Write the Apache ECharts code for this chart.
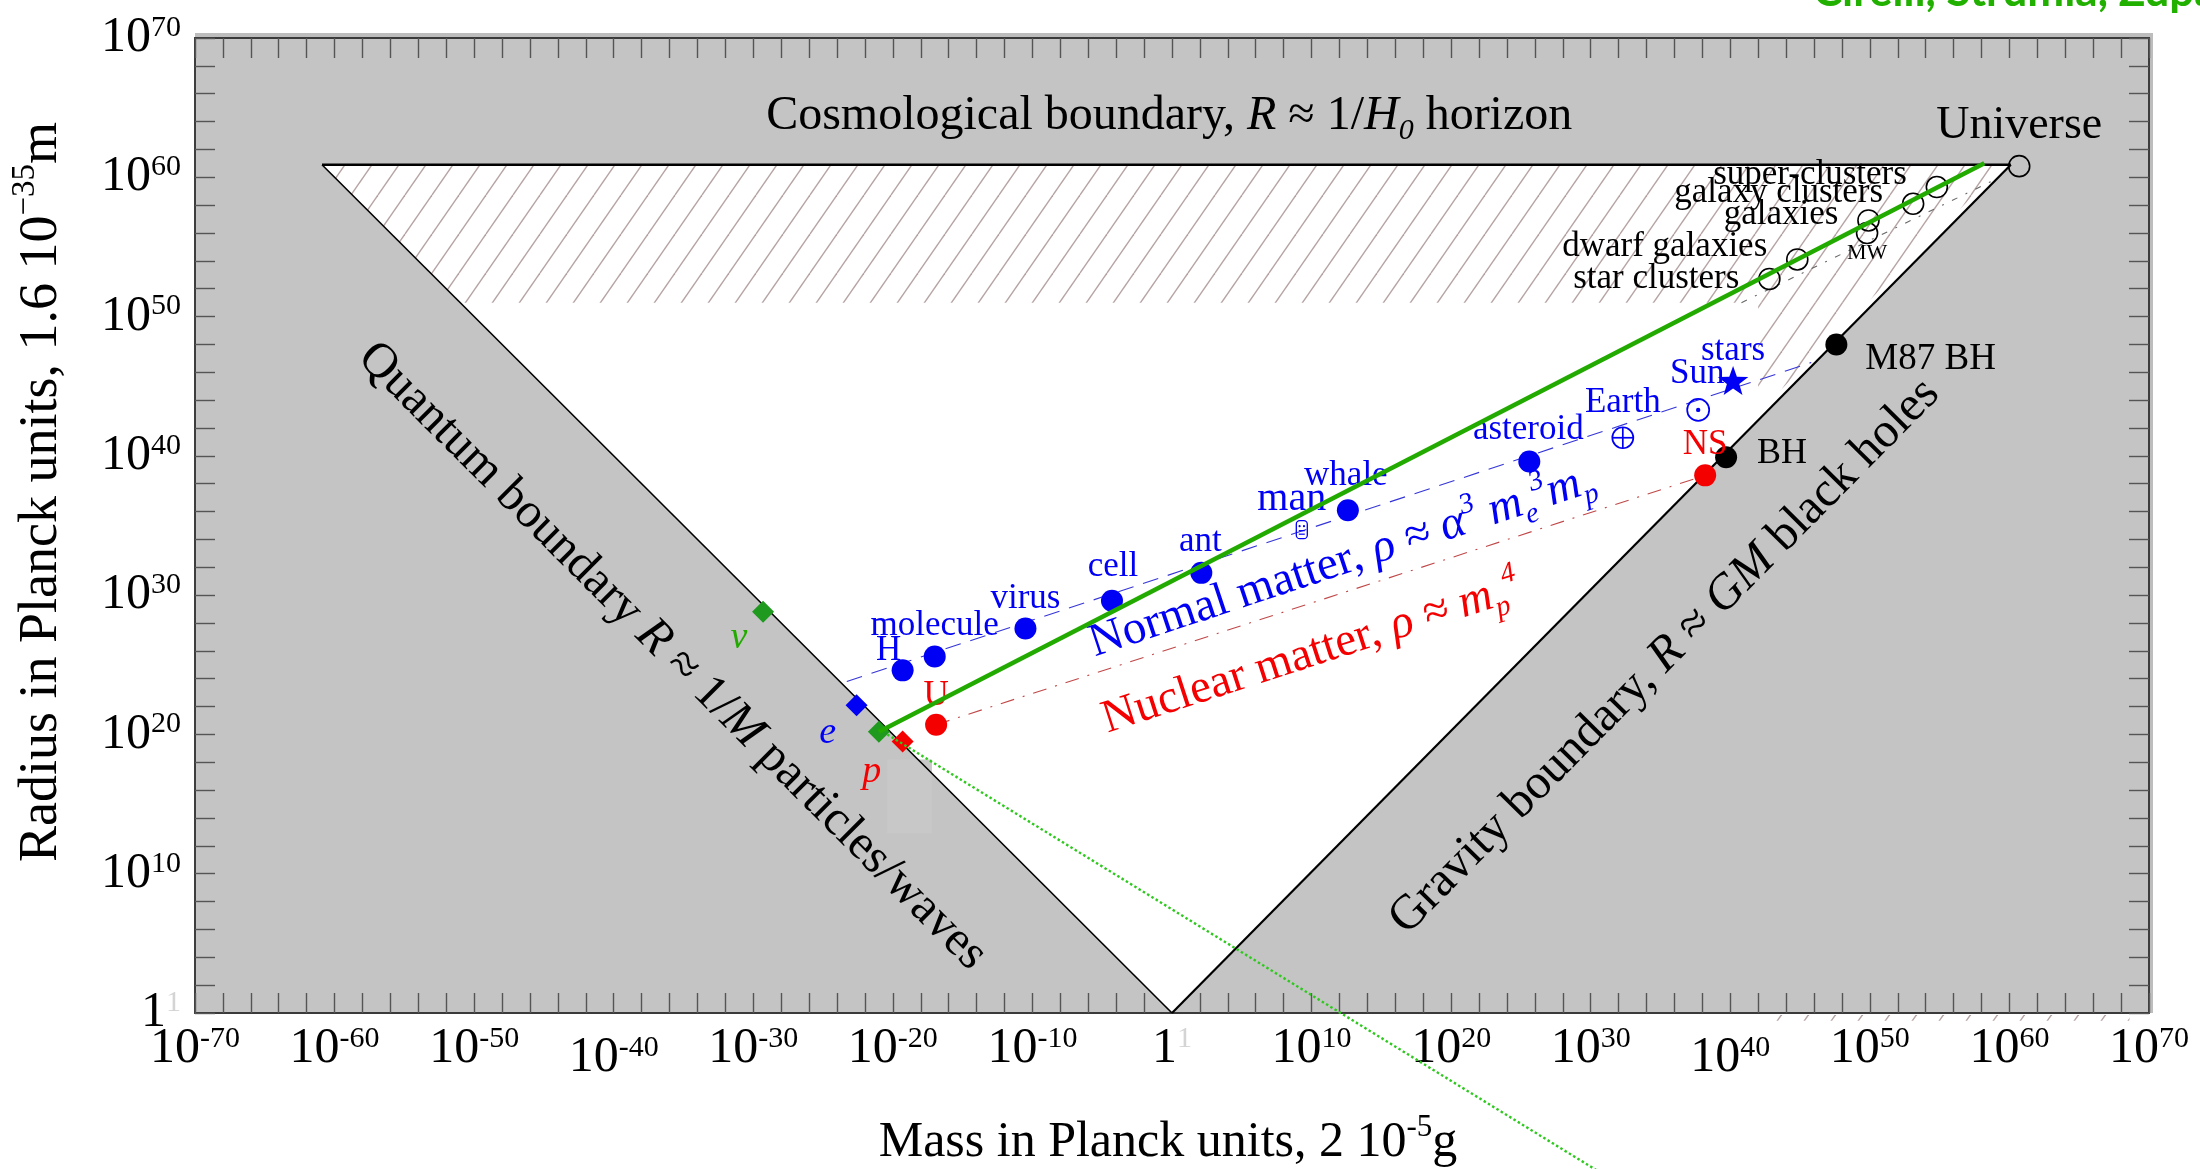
<!DOCTYPE html>
<html>
<head>
<meta charset="utf-8">
<script src="https://cdn.jsdelivr.net/npm/echarts@6/dist/echarts.min.js"></script>
<style>html,body{margin:0;padding:0;background:#fff;}#chart{width:2200px;height:1169px;}</style>
</head>
<body>
<div id="chart"></div>
<script>
// ---------------- data (log10 of Planck units) ----------------
const massLabelValues = [-70,-60,-50,-40,-30,-20,-10,0,10,20,30,40,50,60,70];
const loweredMassLabels = [-40,40];
const radiusLabelValues = [0,10,20,30,40,50,60,70];

const allowedRegion = [[-60.9,60.9],[0,0],[60.1,60.9]];
const quantumBoundary = [[-60.9,60.9],[0,0]];
const gravityBoundary = [[0,0],[60.1,60.9]];
const cosmologicalBoundary = [[-60.9,60.9],[60.1,60.9]];
const hatchBand = [[-60.9,60.9],[59.6,60.9],[49.8,51.0],[-51.0,51.0]];
const hatchWedge = [[42.0,51.0],[49.8,51.0],[42.0,43.1]];
const hatchStrip = [[42.3,-0.15],[68.6,-0.15],[68.6,-0.55],[42.3,-0.55]];
const greyPatch = [[-20.4,18.2],[-17.2,18.2],[-17.2,12.9],[-20.4,12.9]];
const normalMatterLine = [[-23.3,23.8],[45.8,46.7]];
const nuclearMatterLine = [[-16.9,20.7],[38.2,38.6]];
const galaxyLine = [[40.8,51.0],[58.9,59.8]];
const greenLine = [[-21.0,20.2],[58.2,61.0]];
const greenDotted = [[-20.4,20.0],[30.6,-11.4]];

const normalNames  = ['H','molecule','virus','cell','ant','whale','asteroid'];
const normalMass   = [-19.3,-17.0,-10.5,-4.3,2.1,12.6,25.6];
const normalRadius = [24.6,25.6,27.6,29.6,31.6,36.1,39.6];

const bodyNames  = ['man','Earth','Sun','stars'];
const bodyMass   = [9.3,32.3,37.7,40.2];
const bodyRadius = [34.7,41.3,43.3,45.3];

const nuclearNames  = ['U','NS'];
const nuclearMass   = [-16.9,38.2];
const nuclearRadius = [20.7,38.6];

const holeNames  = ['BH','M87 BH'];
const holeMass   = [39.7,47.6];
const holeRadius = [39.9,48.0];

const cosmicNames  = ['star clusters','dwarf galaxies','galaxies','MW','galaxy clusters','super-clusters','Universe'];
const cosmicMass   = [42.8,44.8,49.9,49.8,53.1,54.8,60.7];
const cosmicRadius = [52.7,54.1,56.9,56.0,58.1,59.3,60.8];

const particleNames  = ['ν','e','','p'];
const particleMass   = [-29.3,-22.6,-21.0,-19.3];
const particleRadius = [28.8,22.1,20.2,19.5];

const annotationNames  = ['cosmological','quantum','gravity','normal','nuclear'];
const annotationMass   = [-0.2,-35.8,35.3,12.2,10.0];
const annotationRadius = [64.4,25.6,25.6,32.4,25.8];

// ---------------- styles ----------------
const FONT = 'Liberation Serif';
const BLUE = '#0000f4', RED = '#f40000', GREEN = '#22aa00', GREEN_MARK = '#1f9a1f', BLACK = '#000';
const particleColors = [GREEN_MARK, BLUE, GREEN_MARK, RED];
const labelPlacement = {
  'H':[-14,-20,'center'], 'molecule':[0,-31,'center'], 'virus':[0,-30,'center'], 'cell':[1,-34,'center'],
  'ant':[-1,-31,'center'], 'whale':[-2,-34,'center'], 'asteroid':[-1,-32,'center'],
  'man':[-10,-30,'center'], 'Earth':[0,-35,'center'], 'Sun':[-1,-36,'center'], 'stars':[0,-31,'center'],
  'U':[0,-29,'center'], 'NS':[0,-31,'center'], 'BH':[31,-4,'left'], 'M87 BH':[29,15,'left'],
  'star clusters':[-30,0,'right'], 'dwarf galaxies':[-30,-13,'right'], 'galaxies':[-30,-6,'right'],
  'MW':[0,20,'center'], 'galaxy clusters':[-30,-11,'right'], 'super-clusters':[-30,-12,'right'],
  'Universe':[0,-40,'center'], 'ν':[-24,26,'center'], 'e':[-29,28,'center'], 'p':[-31,31,'center']
};
const labelSize = {'man':40,'Universe':46,'MW':22,'BH':36,'M87 BH':37,'ν':38,'e':38,'p':38};
const italicLabels = ['ν','e','p'];

function hatchPattern() {
  const W = 27, H = 39;
  const c = document.createElement('canvas');
  c.width = W; c.height = H;
  const ctx = c.getContext('2d');
  ctx.strokeStyle = '#b6a4a4';
  ctx.lineWidth = 1.4;
  for (const off of [-W, 0, W]) {
    ctx.beginPath(); ctx.moveTo(off, H); ctx.lineTo(off + W, 0); ctx.stroke();
  }
  return {image: c, repeat: 'repeat'};
}
const HATCH = hatchPattern();

// ---------------- build ----------------
const chart = echarts.init(document.getElementById('chart'), null, {renderer: 'canvas'});

function polygonSeries(points, style, z) {
  return {
    type: 'custom', z: z, silent: true, clip: false, animation: false,
    data: [[points[0][0], points[0][1]]],
    renderItem: (params, api) => ({
      type: 'polygon',
      shape: {points: points.map(p => api.coord(p))},
      style: style
    })
  };
}
function lineSeries(points, color, width, type, z, clip) {
  return {
    type: 'line', data: points, symbol: 'none', z: z, silent: true, clip: clip,
    animation: false, lineStyle: {color: color, width: width, type: type}
  };
}
function pairs(xs, ys) { return xs.map((x, i) => [x, ys[i], i]); }

function axisLabelRich() {
  return {
    d: {fontFamily: FONT, fontSize: 50, lineHeight: 50, color: BLACK},
    e: {fontFamily: FONT, fontSize: 30, lineHeight: 30, verticalAlign: 'top', color: BLACK},
    f: {fontFamily: FONT, fontSize: 30, lineHeight: 30, verticalAlign: 'top', color: '#d4d4d4'}
  };
}
function expText(v) {
  if (v === 0) return '{d|1}{f|1}';
  return '{d|10}{e|' + v + '}';
}

// label collection
const labelNames = [], labelMass = [], labelRadius = [], labelColors = [];
function addLabels(names, ms, rs, color) {
  names.forEach((n, i) => {
    if (!n) return;
    labelNames.push(n); labelMass.push(ms[i]); labelRadius.push(rs[i]);
    labelColors.push(typeof color === 'function' ? color(i) : color);
  });
}
addLabels(normalNames, normalMass, normalRadius, BLUE);
addLabels(bodyNames, bodyMass, bodyRadius, BLUE);
addLabels(nuclearNames, nuclearMass, nuclearRadius, RED);
addLabels(holeNames, holeMass, holeRadius, BLACK);
addLabels(cosmicNames, cosmicMass, cosmicRadius, BLACK);
addLabels(particleNames, particleMass, particleRadius, i => particleColors[i] === GREEN_MARK ? GREEN : particleColors[i]);

function richSet(size, color) {
  const sub = Math.round(size * 0.62);
  return {
    t: {fontFamily: FONT, fontSize: size, lineHeight: size + 12, fill: color, color: color},
    i: {fontFamily: FONT, fontStyle: 'italic', fontSize: size, lineHeight: size + 12, fill: color, color: color},
    sup: {fontFamily: FONT, fontStyle: 'italic', fontSize: sub, lineHeight: sub + 2, verticalAlign: 'top', fill: color, color: color},
    sub: {fontFamily: FONT, fontStyle: 'italic', fontSize: sub, lineHeight: sub + 2, verticalAlign: 'bottom', fill: color, color: color},
    up: {fontFamily: FONT, fontSize: sub, lineHeight: sub + 2, verticalAlign: 'top', fill: color, color: color}
  };
}
const annotationStyle = {
  cosmological: {text: '{t|Cosmological boundary, }{i|R}{t| ≈ 1/}{i|H}{sub|0}{t| horizon}', size: 48, color: BLACK, dir: cosmologicalBoundary},
  quantum: {text: '{t|Quantum boundary }{i|R}{t| ≈ 1/}{i|M}{t| particles/waves}', size: 49, color: BLACK, dir: quantumBoundary},
  gravity: {text: '{t|Gravity boundary, }{i|R}{t| ≈ }{i|GM}{t| black holes}', size: 49, color: BLACK, dir: gravityBoundary},
  normal: {text: '{t|Normal matter, }{i|ρ ≈ α}{sup|3}{i| m}{sub|e}{sup|3}{i|m}{sub|p}', size: 47, color: BLUE, dir: normalMatterLine},
  nuclear: {text: '{t|Nuclear matter, }{i|ρ ≈ m}{sub|p}{sup|4}', size: 47, color: RED, dir: nuclearMatterLine}
};

function starPoints(R, r) {
  const pts = [];
  for (let k = 0; k < 10; k++) {
    const a = -Math.PI / 2 + k * Math.PI / 5;
    const rad = k % 2 === 0 ? R : r;
    pts.push([rad * Math.cos(a), rad * Math.sin(a)]);
  }
  return pts;
}

const dot = (color, extra) => Object.assign({color: color, opacity: 1}, extra || {});

const series = [
  polygonSeries(allowedRegion, {fill: '#ffffff'}, 1),
  polygonSeries(hatchBand, {fill: HATCH}, 2),
  polygonSeries(hatchWedge, {fill: HATCH}, 2),
  polygonSeries(hatchStrip, {fill: HATCH}, 2),
  polygonSeries(greyPatch, {fill: '#c8c8c8'}, 3),
  lineSeries(quantumBoundary, BLACK, 1.6, 'solid', 4, true),
  lineSeries(gravityBoundary, BLACK, 2.2, 'solid', 4, true),
  lineSeries(cosmologicalBoundary, BLACK, 2.6, 'solid', 4, true),
  lineSeries(normalMatterLine, '#3535d8', 1.1, [16, 10], 5, true),
  lineSeries(nuclearMatterLine, '#c04848', 1.1, [14, 9, 2, 9], 5, true),
  lineSeries(galaxyLine, '#666666', 1.1, [6, 9, 2, 9], 5, true),
  // points
  {type: 'scatter', z: 6, silent: true, animation: false, symbol: 'circle', symbolSize: 22,
   itemStyle: dot(BLUE), data: pairs(normalMass, normalRadius)},
  {type: 'scatter', z: 6, silent: true, animation: false, symbol: 'circle', symbolSize: 22,
   itemStyle: dot(RED), data: pairs(nuclearMass, nuclearRadius)},
  {type: 'scatter', z: 6, silent: true, animation: false, symbol: 'circle', symbolSize: 22,
   itemStyle: dot(BLACK), data: pairs(holeMass, holeRadius)},
  {type: 'scatter', z: 6, silent: true, animation: false, symbol: 'circle', symbolSize: 21,
   itemStyle: dot('rgba(0,0,0,0)', {borderColor: BLACK, borderWidth: 1.6}), data: pairs(cosmicMass, cosmicRadius)},
  {type: 'scatter', z: 6, silent: true, animation: false, symbol: 'diamond', symbolSize: 22,
   data: pairs(particleMass, particleRadius).map((d, i) => ({value: d, itemStyle: dot(particleColors[i])}))},
  {type: 'custom', z: 6, silent: true, animation: false, data: pairs(bodyMass, bodyRadius),
   renderItem: (params, api) => {
     const p = api.coord([api.value(0), api.value(1)]);
     const name = bodyNames[api.value(2)];
     const ln = {stroke: BLUE, lineWidth: 1.7, fill: 'none'};
     let children;
     if (name === 'Earth') {
       children = [{type: 'circle', shape: {cx: 0, cy: 0, r: 10.5}, style: ln},
                   {type: 'line', shape: {x1: -10.5, y1: 0, x2: 10.5, y2: 0}, style: ln},
                   {type: 'line', shape: {x1: 0, y1: -10.5, x2: 0, y2: 10.5}, style: ln}];
     } else if (name === 'Sun') {
       children = [{type: 'circle', shape: {cx: 0, cy: 0, r: 11}, style: ln},
                   {type: 'circle', shape: {cx: 0, cy: 0, r: 2.2}, style: {fill: BLUE}}];
     } else if (name === 'stars') {
       children = [{type: 'polygon', shape: {points: starPoints(16, 6.5)}, style: {fill: BLUE}}];
     } else {
       children = [{type: 'rect', shape: {x: -5.5, y: -9, width: 11, height: 18, r: 3.5}, style: {stroke: BLUE, lineWidth: 1.3, fill: 'none'}},
                   {type: 'circle', shape: {cx: -2.2, cy: -3.5, r: 1.1}, style: {fill: BLUE}},
                   {type: 'circle', shape: {cx: 2.2, cy: -3.5, r: 1.1}, style: {fill: BLUE}},
                   {type: 'line', shape: {x1: -3, y1: 1, x2: 3, y2: 1}, style: {stroke: BLUE, lineWidth: 1.2}},
                   {type: 'line', shape: {x1: -3, y1: 4.5, x2: 3, y2: 4.5}, style: {stroke: BLUE, lineWidth: 1.2}}];
     }
     return {type: 'group', x: p[0], y: p[1], children: children};
   }},
  // point labels
  {type: 'custom', z: 7, silent: true, animation: false, data: pairs(labelMass, labelRadius),
   renderItem: (params, api) => {
     const i = api.value(2);
     const name = labelNames[i];
     const p = api.coord([api.value(0), api.value(1)]);
     const pl = labelPlacement[name];
     const size = labelSize[name] || 35;
     const italic = italicLabels.includes(name);
     return {type: 'text', x: p[0] + pl[0], y: p[1] + pl[1],
       style: {text: name, fill: labelColors[i], fontFamily: FONT, fontSize: size,
               fontStyle: italic ? 'italic' : 'normal',
               align: pl[2], textAlign: pl[2], verticalAlign: 'middle', textVerticalAlign: 'middle'}};
   }},
  // region annotations
  {type: 'custom', z: 7, silent: true, animation: false, data: pairs(annotationMass, annotationRadius),
   renderItem: (params, api) => {
     const i = api.value(2);
     const st = annotationStyle[annotationNames[i]];
     const p = api.coord([api.value(0), api.value(1)]);
     const a = api.coord(st.dir[0]), b = api.coord(st.dir[1]);
     const rot = -Math.atan2(b[1] - a[1], b[0] - a[0]);
     return {type: 'text', x: p[0], y: p[1], rotation: rot,
       style: {text: st.text, rich: richSet(st.size, st.color), fill: st.color,
               fontFamily: FONT, fontSize: st.size,
               align: 'center', textAlign: 'center', verticalAlign: 'middle', textVerticalAlign: 'middle'}};
   }},
  lineSeries(greenLine, GREEN, 4.5, 'solid', 8, true),
  lineSeries(greenDotted, '#2ec81e', 2.4, [2.5, 2.5], 8, false)
];

const tickStyle = {show: true, inside: true, length: 20, lineStyle: {color: '#555', width: 1.4}};
const axisLineStyle = {show: true, onZero: false, lineStyle: {color: '#3a3a3a', width: 1.8}};

const option = {
  animation: false,
  backgroundColor: '#ffffff',
  grid: {left: 195, right: 51, top: 38, bottom: 156, show: true, backgroundColor: '#c4c4c4',
         borderColor: '#3a3a3a', borderWidth: 1.5, containLabel: false, outerBoundsMode: 'none'},
  xAxis: [
    {type: 'value', min: -70, max: 70, interval: 2, position: 'bottom', splitLine: {show: false},
     axisLine: axisLineStyle, axisTick: tickStyle,
     axisLabel: {margin: 11, hideOverlap: false, showMinLabel: true, showMaxLabel: true,
       formatter: v => (massLabelValues.includes(v) && !loweredMassLabels.includes(v)) ? expText(v) : '',
       rich: axisLabelRich()}},
    {type: 'value', min: -70, max: 70, interval: 2, position: 'top', splitLine: {show: false},
     axisLine: axisLineStyle, axisTick: tickStyle, axisLabel: {show: false}},
    {type: 'value', min: -70, max: 70, interval: 2, position: 'bottom', splitLine: {show: false},
     axisLine: {show: false, onZero: false}, axisTick: {show: false},
     axisLabel: {margin: 20, hideOverlap: false,
       formatter: v => loweredMassLabels.includes(v) ? expText(v) : '',
       rich: axisLabelRich()}}
  ],
  yAxis: [
    {type: 'value', min: 0, max: 70, interval: 2, position: 'left', splitLine: {show: false},
     axisLine: axisLineStyle, axisTick: tickStyle,
     axisLabel: {margin: 14, hideOverlap: false, showMinLabel: true, showMaxLabel: true,
       formatter: v => radiusLabelValues.includes(v) ? expText(v) : '',
       rich: axisLabelRich()}},
    {type: 'value', min: 0, max: 70, interval: 2, position: 'right', splitLine: {show: false},
     axisLine: axisLineStyle, axisTick: tickStyle, axisLabel: {show: false}}
  ],
  graphic: [
    {type: 'rect', z: -1, shape: {x: 195, y: 33, width: 1958, height: 5}, style: {fill: '#bdbdbd'}},
    {type: 'rect', z: -1, shape: {x: 2149, y: 33, width: 4, height: 980}, style: {fill: '#bdbdbd'}},
    {type: 'text', x: 1168, y: 1143,
     style: {text: '{t|Mass in Planck units, 2 10}{up|-5}{t|g}', rich: richSet(50, BLACK), fill: BLACK,
             align: 'center', textAlign: 'center', verticalAlign: 'middle', textVerticalAlign: 'middle'}},
    {type: 'text', x: 42, y: 492, rotation: Math.PI / 2,
     style: {text: '{t|Radius in Planck units, 1.6 10}{up|−35}{t|m}', rich: richSet(54, BLACK), fill: BLACK,
             align: 'center', textAlign: 'center', verticalAlign: 'middle', textVerticalAlign: 'middle'}},
    {type: 'text', x: 1813, y: -8,
     style: {text: 'Cirelli, Strumia, Zupan', fill: '#22b000', fontFamily: 'Lato', fontWeight: 'bold', fontSize: 44,
             align: 'left', textAlign: 'left', verticalAlign: 'middle', textVerticalAlign: 'middle'}}
  ],
  series: series
};
chart.setOption(option);
</script>
</body>
</html>
